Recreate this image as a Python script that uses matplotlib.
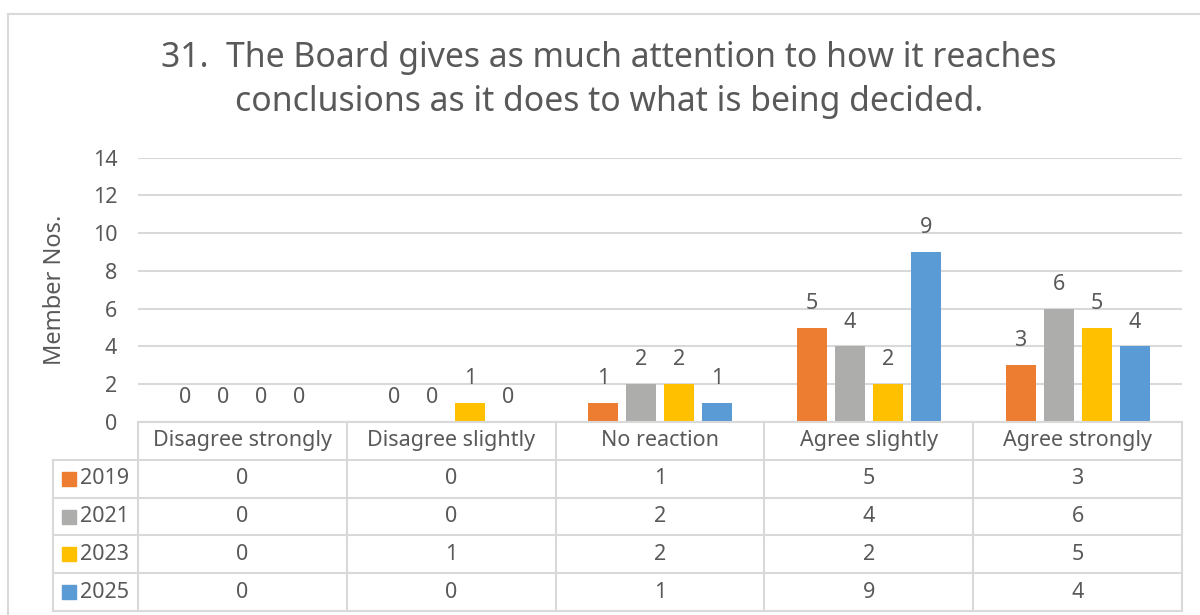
import numpy as np
import matplotlib
matplotlib.use('Agg')
import matplotlib.pyplot as plt
from matplotlib.lines import Line2D
from matplotlib.patches import Rectangle

plt.rcParams['font.family'] = ['Noto Sans', 'DejaVu Sans']

# data
categories = ['Disagree strongly', 'Disagree slightly', 'No reaction', 'Agree slightly', 'Agree strongly']
years = ['2019', '2021', '2023', '2025']
values = {
    '2019': [0, 0, 1, 5, 3],
    '2021': [0, 0, 2, 4, 6],
    '2023': [0, 1, 2, 2, 5],
    '2025': [0, 0, 1, 9, 4],
}
colors = ['#ED7D31', '#ADADAB', '#FFC000', '#5B9BD5']
title = '31.  The Board gives as much attention to how it reaches\nconclusions as it does to what is being decided.'
ylabel = 'Member Nos.'

txt_col = '#595959'
grid_col = '#D9D9D9'
W, H = 1200, 615
fs = 15.5

fig = plt.figure(figsize=(W / 100, H / 100), dpi=100)

# outer chart border (cropped on right and bottom)
fig.add_artist(Line2D([8 / W, 8 / W], [0, 1 - 14 / H], color=grid_col, lw=1.5))
fig.add_artist(Line2D([8 / W, 1], [1 - 14 / H, 1 - 14 / H], color=grid_col, lw=1.5))

fig.text(609 / W, 1 - 80 / H, title, ha='center', va='center', fontsize=24.3,
         color=txt_col, linespacing=1.38)

# plot area
left, right = 138 / W, 1182 / W
ax = fig.add_axes([left, 1 - 422 / H, right - left, (422 - 157.7) / H])
x = np.arange(len(categories))
bw = 0.143
step = 0.182
for i, yr in enumerate(years):
    pos = x + (i - 1.5) * step
    ax.bar(pos, values[yr], width=bw, color=colors[i], zorder=3)
    for p, v in zip(pos, values[yr]):
        ax.annotate(str(v), (p, v), xytext=(0, 10), textcoords='offset points',
                    ha='center', va='bottom', fontsize=fs, color=txt_col)

ax.set_xlim(-0.5, len(categories) - 0.5)
ax.set_ylim(0, 14)
ax.set_yticks(np.arange(0, 15, 2))
ax.set_xticks([])
ax.grid(axis='y', color=grid_col, lw=1.5, zorder=0)
for s in ax.spines.values():
    s.set_visible(False)
ax.tick_params(axis='y', length=0, pad=15, labelsize=fs, labelcolor=txt_col)
ax.set_ylabel(ylabel, fontsize=17, color=txt_col)
ax.yaxis.set_label_coords(-0.068, 0.5)

# data table
tab = fig.add_axes([left, 1 - 611 / H, right - left, (611 - 422) / H])
tab.set_xlim(-0.5, len(categories) - 0.5)
tab.set_ylim(len(years) + 1, 0)
tab.axis('off')
px = len(categories) / (1182 - 138)  # data units per pixel
leg_left = -0.5 - (138 - 53) * px
lkw = dict(color=grid_col, lw=1.5, clip_on=False)

# horizontal lines
tab.plot([-0.5, len(categories) - 0.5], [0, 0], **lkw)
for r in range(1, len(years) + 2):
    tab.plot([leg_left, len(categories) - 0.5], [r, r], **lkw)
# vertical lines
for c in range(len(categories) + 1):
    tab.plot([c - 0.5, c - 0.5], [0, len(years) + 1], **lkw)
tab.plot([leg_left, leg_left], [1, len(years) + 1], **lkw)

for j, cat in enumerate(categories):
    tab.text(j, 0.5, cat, ha='center', va='center', fontsize=fs, color=txt_col)
sw = 14 * px
sh = 14 / 37.8
for i, yr in enumerate(years):
    r = i + 1.5
    sx = leg_left + 9 * px
    tab.add_patch(Rectangle((sx, r - sh / 2), sw, sh, color=colors[i], clip_on=False))
    tab.text(sx + sw + 4 * px, r, yr, ha='left', va='center',
             fontsize=fs, color=txt_col)
    for j, v in enumerate(values[yr]):
        tab.text(j, r, str(v), ha='center', va='center', fontsize=fs, color=txt_col)

fig.savefig('out.png', dpi=100)
